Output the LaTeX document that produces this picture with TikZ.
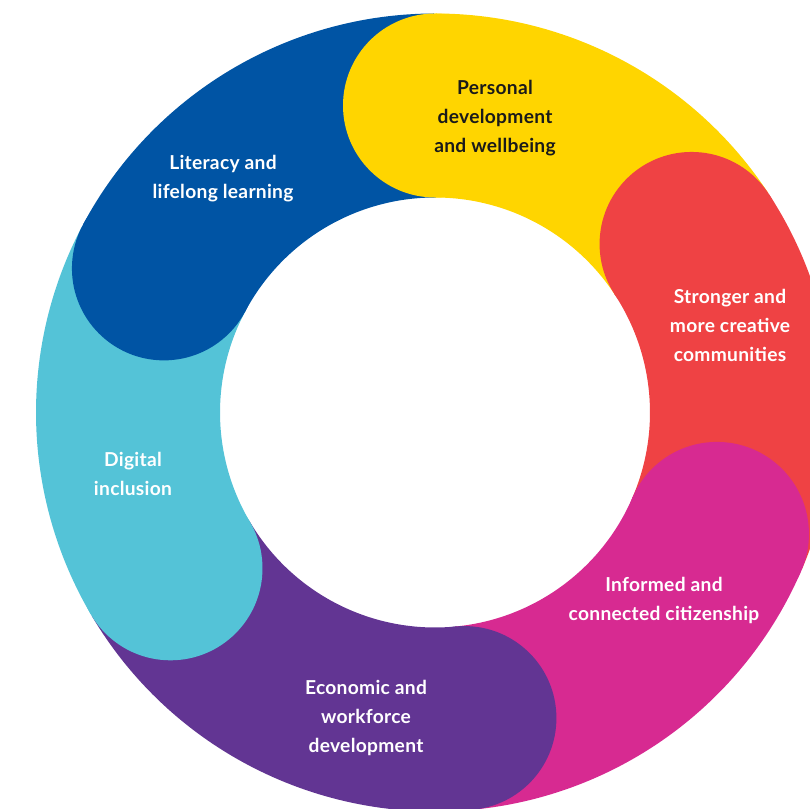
\documentclass[tikz,border=0pt]{standalone}
\usepackage{fontspec}
\setmainfont{Lato}[LetterSpace=1.5]
\usetikzlibrary{calc}
\definecolor{cblue}{RGB}{0,84,164}
\definecolor{cyellow}{RGB}{255,213,0}
\definecolor{cred}{RGB}{239,66,68}
\definecolor{cmag}{RGB}{215,42,145}
\definecolor{cpurple}{RGB}{98,53,147}
\definecolor{ccyan}{RGB}{84,195,215}
\definecolor{cdark}{RGB}{26,26,26}
\begin{document}
\begin{tikzpicture}[x=1pt,y=1pt,
  seg/.style={line width=184pt},
  lbl/.style={font=\bfseries\fontsize{19.2}{29}\selectfont, align=center, text=white, inner sep=0pt}]
\useasboundingbox (0,0) rectangle (810,808);
\clip (0,0) rectangle (810,808);
\coordinate (C) at (435,395.5);
\foreach \a/\b/\c in {90/33.3/cyellow, 33.3/-23.3/cred, -23.3/-84.5/cmag, -84.5/-149.5/cpurple, -149.5/-208/ccyan, -208/-270/cblue}
  \draw[seg, \c] ($(C)+(\a:307)$) arc[start angle=\a, end angle=\b, radius=307];
\foreach \a/\c in {90/cyellow, 33.3/cred, -23.3/cmag, -84.5/cpurple, -149.5/ccyan, 152/cblue}
  \fill[\c] ($(C)+(\a:307)$) circle[radius=92];
\node[lbl, text=cdark] (personal) at (495,690) {Personal\\development\\and wellbeing};
\node[lbl] (literacy) at (223,629) {Literacy and\\lifelong learning};
\node[lbl] (stronger) at (730,483) {Stronger and\\more creative\\communities};
\node[lbl] (informed) at (664,208) {Informed and\\connected citizenship};
\node[lbl] (economic) at (366,90) {Economic and\\workforce\\development};
\node[lbl] (digital) at (133,334) {Digital\\inclusion};
\end{tikzpicture}
\end{document}
